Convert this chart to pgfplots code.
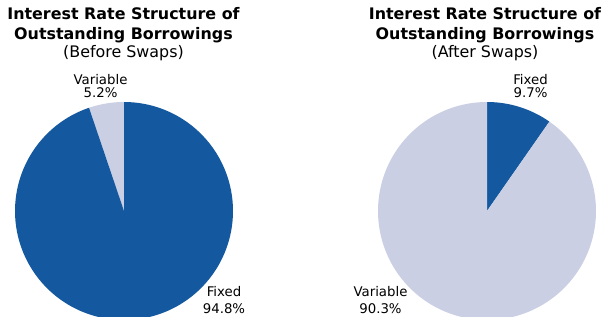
\documentclass[border=0pt]{standalone}
\usepackage{pgfplots}
\pgfplotsset{compat=1.18}
\usepackage{pgfplotstable}
\usepackage{fontspec}
\setmainfont{DejaVu Sans}
\definecolor{darkblue}{HTML}{14599F}
\definecolor{lightlav}{HTML}{CBCFE3}
% slice values (percent)
\pgfplotstableread{
name value
Variable 5.2
Fixed 94.8
}\before
\pgfplotstableread{
name value
Fixed 9.7
Variable 90.3
}\after
\begin{document}
\begin{tikzpicture}
\pgfplotstablegetelem{0}{value}\of\before \let\bVar\pgfplotsretval
\pgfplotstablegetelem{1}{value}\of\before \let\bFix\pgfplotsretval
\pgfplotstablegetelem{0}{value}\of\after \let\aFix\pgfplotsretval
\pgfplotstablegetelem{1}{value}\of\after \let\aVar\pgfplotsretval
\pgfmathsetmacro{\bA}{90+3.6*\bVar}
\pgfmathsetmacro{\bB}{\bA+3.6*\bFix}
\pgfmathsetmacro{\aA}{90-3.6*\aFix}
\pgfmathsetmacro{\aB}{90+3.6*\aVar}
\begin{axis}[
  hide axis, x=1bp, y=1bp, scale only axis,
  xmin=0, xmax=606, ymin=0, ymax=316,
  at={(0,0)}, anchor=south west, clip=true,
]
\coordinate (ll) at (axis cs:0,0);
\coordinate (ur) at (axis cs:606,316);
% left pie
\addplot[fill=lightlav, draw=none, domain=90:\bA, samples=40, variable=\t]
  ({124+109*cos(\t)}, {105+109*sin(\t)}) -- (axis cs:124,105) -- cycle;
\addplot[fill=darkblue, draw=none, domain=\bA:\bB, samples=200, variable=\t]
  ({124+109*cos(\t)}, {105+109*sin(\t)}) -- (axis cs:124,105) -- cycle;
% right pie
\addplot[fill=darkblue, draw=none, domain=\aA:90, samples=40, variable=\t]
  ({487+109*cos(\t)}, {105+109*sin(\t)}) -- (axis cs:487,105) -- cycle;
\addplot[fill=lightlav, draw=none, domain=90:\aB, samples=200, variable=\t]
  ({487+109*cos(\t)}, {105+109*sin(\t)}) -- (axis cs:487,105) -- cycle;
% titles
\begin{scope}[every node/.style={anchor=base, inner sep=0pt}]
\node[font=\fontsize{15.9bp}{19bp}\selectfont\bfseries] at (axis cs:123.5,297) {Interest Rate Structure of};
\node[font=\fontsize{15.9bp}{19bp}\selectfont\bfseries] at (axis cs:123.5,277) {Outstanding Borrowings};
\node[font=\fontsize{15.9bp}{19bp}\selectfont] at (axis cs:123.5,259) {(Before Swaps)};
\node[font=\fontsize{15.9bp}{19bp}\selectfont\bfseries] at (axis cs:485,297) {Interest Rate Structure of};
\node[font=\fontsize{15.9bp}{19bp}\selectfont\bfseries] at (axis cs:485,277) {Outstanding Borrowings};
\node[font=\fontsize{15.9bp}{19bp}\selectfont] at (axis cs:485,259) {(After Swaps)};
% labels
\node[font=\fontsize{13.3bp}{15bp}\selectfont] at (axis cs:100.5,232) {Variable};
\node[font=\fontsize{13.3bp}{15bp}\selectfont] at (axis cs:100.5,219) {5.2\%};
\node[font=\fontsize{13.3bp}{15bp}\selectfont] at (axis cs:224,19.5) {Fixed};
\node[font=\fontsize{13.3bp}{15bp}\selectfont] at (axis cs:224,3) {94.8\%};
\node[font=\fontsize{13.3bp}{15bp}\selectfont] at (axis cs:530.5,232) {Fixed};
\node[font=\fontsize{13.3bp}{15bp}\selectfont] at (axis cs:530.5,219) {9.7\%};
\node[font=\fontsize{13.3bp}{15bp}\selectfont] at (axis cs:380.5,19.5) {Variable};
\node[font=\fontsize{13.3bp}{15bp}\selectfont] at (axis cs:380.5,3) {90.3\%};
\end{scope}
\end{axis}
\pgfresetboundingbox
\useasboundingbox (ll) rectangle (ur);
\end{tikzpicture}
\end{document}
